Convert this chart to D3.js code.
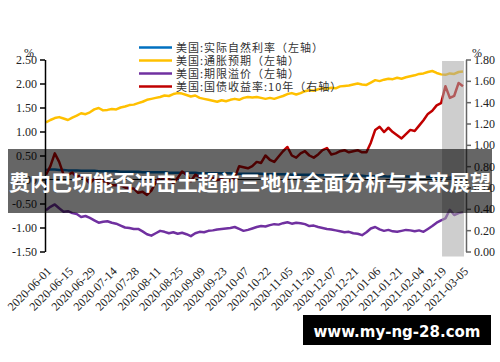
<!DOCTYPE html>
<html>
<head>
<meta charset="utf-8">
<script src="https://cdn.jsdelivr.net/npm/d3@7"></script>
<style>
    html,body{margin:0;padding:0;background:#fff;}
    svg{display:block;}
</style>
</head>
<body>
<div id="chart"></div>
<script>
"use strict";

// x轴标签(每5个点一个)
var dateLabels = ["2020-06-01","2020-06-15","2020-06-29","2020-07-14","2020-07-28","2020-08-11","2020-08-25",
    "2020-09-09","2020-09-23","2020-10-07","2020-10-22","2020-11-05","2020-11-20","2020-12-07","2020-12-21",
    "2021-01-06","2021-01-21","2021-02-04","2021-02-19","2021-03-05"];

// 美国:实际自然利率(左轴)
var naturalRate = [0.20,0.21,0.21,0.20,0.20,0.19,0.19,0.19,0.18,0.18,0.18,0.18,0.17,0.17,0.17,0.17,0.17,0.16,0.16,0.16,
    0.16,0.16,0.15,0.15,0.15,0.15,0.15,0.15,0.14,0.14,0.14,0.14,0.14,0.14,0.14,0.13,0.13,0.13,0.13,0.13,
    0.13,0.13,0.13,0.12,0.12,0.12,0.12,0.12,0.12,0.12,0.11,0.11,0.11,0.11,0.11,0.11,0.10,0.10,0.10,0.10,
    0.10,0.10,0.09,0.09,0.09,0.09,0.09,0.08,0.08,0.08,0.08,0.08,0.08,0.07,0.07,0.07,0.07,0.07,0.06,0.06,
    0.06,0.06,0.06,0.06,0.05,0.05,0.05,0.05,0.05,0.05,0.05,0.04,0.04,0.04,0.04,0.04];

// 美国:通胀预期(左轴)
var inflationExp = [1.19,1.24,1.28,1.30,1.27,1.24,1.29,1.33,1.38,1.36,1.40,1.46,1.49,1.44,1.45,1.47,1.46,1.50,1.52,1.55,
    1.56,1.59,1.62,1.66,1.68,1.70,1.72,1.75,1.74,1.78,1.80,1.79,1.76,1.73,1.75,1.70,1.68,1.66,1.64,1.62,
    1.65,1.63,1.66,1.68,1.66,1.70,1.72,1.71,1.72,1.70,1.68,1.70,1.68,1.71,1.74,1.78,1.80,1.77,1.80,1.84,
    1.86,1.85,1.88,1.90,1.89,1.91,1.90,1.94,1.95,1.96,1.98,2.00,1.98,1.97,2.02,2.07,2.05,2.08,2.10,2.09,
    2.12,2.10,2.13,2.15,2.17,2.20,2.21,2.24,2.26,2.22,2.19,2.18,2.21,2.20,2.24,2.25];

// 美国:期限溢价(左轴)
var termPremium = [-0.64,-0.57,-0.52,-0.60,-0.67,-0.66,-0.70,-0.72,-0.78,-0.76,-0.80,-0.85,-0.90,-0.88,-0.87,-0.90,-0.92,-0.96,-1.00,-1.01,
    -1.03,-1.03,-1.08,-1.14,-1.17,-1.12,-1.07,-1.09,-1.12,-1.10,-1.13,-1.11,-1.14,-1.18,-1.12,-1.09,-1.10,-1.07,-1.06,-1.04,
    -1.03,-1.02,-1.01,-0.99,-1.03,-1.07,-1.05,-1.02,-0.99,-0.97,-0.98,-0.95,-0.93,-0.94,-0.91,-0.89,-0.92,-0.90,-0.91,-0.93,
    -0.97,-0.96,-0.99,-1.01,-1.03,-1.04,-1.06,-1.08,-1.10,-1.09,-1.12,-1.13,-1.16,-1.10,-1.02,-0.99,-1.04,-1.07,-1.05,-1.08,
    -1.09,-1.07,-1.05,-1.06,-1.08,-1.06,-1.09,-1.03,-0.97,-0.90,-0.85,-0.81,-0.63,-0.74,-0.70,-0.68];

// 美国:国债收益率:10年(右轴)
var yield10y = [0.72,0.80,0.92,0.84,0.72,0.72,0.74,0.70,0.71,0.68,0.64,0.68,0.69,0.66,0.64,0.62,0.62,0.62,0.60,0.59,
    0.59,0.55,0.56,0.53,0.57,0.65,0.70,0.68,0.68,0.64,0.69,0.75,0.72,0.66,0.72,0.70,0.67,0.68,0.69,0.67,
    0.68,0.66,0.66,0.69,0.80,0.79,0.78,0.80,0.84,0.83,0.90,0.86,0.84,0.89,0.94,0.98,0.90,0.88,0.92,0.94,
    0.90,0.88,0.91,0.95,0.97,0.91,0.92,0.94,0.95,0.93,0.94,0.95,0.93,0.93,1.02,1.14,1.17,1.12,1.16,1.12,
    1.09,1.06,1.10,1.14,1.13,1.18,1.23,1.29,1.32,1.37,1.39,1.55,1.44,1.46,1.58,1.55];

var leftTicks = [2.5,2.0,1.5,1.0,0.5,0,-0.5,-1.0,-1.5];
var rightTicks = [1.8,1.6,1.4,1.2,1.0,0.8,0.6,0.4,0.2,0];

var seriesList = [
    {name:"美国:实际自然利率（左轴）", values:naturalRate, color:"#0070C0", axis:"left"},
    {name:"美国:通胀预期（左轴）", values:inflationExp, color:"#FFC000", axis:"left"},
    {name:"美国:期限溢价（左轴）", values:termPremium, color:"#7030A0", axis:"left"},
    {name:"美国:国债收益率:10年（右轴）", values:yield10y, color:"#C00000", axis:"right"}
];

var bannerText = "费内巴切能否冲击土超前三地位全面分析与未来展望";
var siteText = "www.my-ng-28.com";

var width = 500, height = 362;
var svg = d3.select("#chart").append("svg")
    .attr("width",width)
    .attr("height",height);

var plotLeft = 45, plotRight = 466, plotTop = 59.5, plotBottom = 251.5;
var serif = "'Liberation Serif','Times New Roman',serif";
var cjk = "'Noto Sans CJK SC',sans-serif";

var x = d3.scalePoint()
    .domain(d3.range(naturalRate.length))
    .range([46,463]);

var yLeft = d3.scaleLinear().domain([-1.5,2.5]).range([plotBottom,plotTop]);
var yRight = d3.scaleLinear().domain([0,1.8]).range([plotBottom,plotTop]);

//零值横轴
svg.append("line")
    .attr("x1",plotLeft).attr("x2",plotRight)
    .attr("y1",yLeft(0)).attr("y2",yLeft(0))
    .attr("stroke","#000").attr("stroke-width",1);

//折线
seriesList.forEach(function(s){
    var yScale = s.axis==="left"?yLeft:yRight;
    var line = d3.line()
        .x(function(d,i){return x(i);})
        .y(function(d){return yScale(d);});
    svg.append("path")
        .datum(s.values)
        .attr("d",line)
        .attr("fill","none")
        .attr("stroke",s.color)
        .attr("stroke-width",2.5)
        .attr("stroke-linejoin","round");
});

//灰色阴影区
svg.append("rect")
    .attr("x",x(90)+1)
    .attr("y",61)
    .attr("width",x(95)-x(90))
    .attr("height",plotBottom+5-61)
    .attr("fill","#a6a6a6")
    .attr("opacity",0.55);

//左轴
var leftAxis = svg.append("g")
    .attr("transform","translate("+plotLeft+",0)")
    .call(d3.axisLeft(yLeft).tickValues(leftTicks).tickSize(5).tickSizeOuter(0).tickFormat(d3.format(".2f")));
leftAxis.select(".domain").attr("stroke","#000").attr("stroke-width",1.5);
leftAxis.selectAll(".tick line").attr("stroke","#000").attr("stroke-width",1.5);
leftAxis.selectAll("text")
    .attr("font-family",serif).attr("font-size",12).attr("fill","#222")
    .text(function(d){return d3.format(".2f")(d).replace("−","-");});

//右轴
var rightAxis = svg.append("g")
    .attr("transform","translate("+plotRight+",0)")
    .call(d3.axisRight(yRight).tickValues(rightTicks).tickSize(5).tickSizeOuter(0).tickFormat(d3.format(".2f")));
rightAxis.select(".domain").attr("stroke","#666").attr("stroke-width",1.5);
rightAxis.selectAll(".tick line").attr("stroke","#666").attr("stroke-width",1.5);
rightAxis.selectAll("text")
    .attr("font-family",serif).attr("font-size",12).attr("fill","#222");

//单位
svg.append("text").attr("x",29).attr("y",57).attr("text-anchor","middle")
    .attr("font-family",serif).attr("font-size",12).attr("fill","#222").text("%");
svg.append("text").attr("x",477).attr("y",57).attr("text-anchor","middle")
    .attr("font-family",serif).attr("font-size",12).attr("fill","#222").text("%");

//x轴标签
svg.append("g").selectAll("text")
    .data(dateLabels)
    .enter()
    .append("text")
    .attr("transform",function(d,i){
        return "translate("+(x(i*5)+6)+",272) rotate(-45)";
    })
    .attr("text-anchor","end")
    .attr("font-family",serif)
    .attr("font-size",12)
    .attr("fill","#222")
    .text(function(d){return d;});

//图例
var legend = svg.append("g").attr("class","legend");
seriesList.forEach(function(s,i){
    var ly = 47.5+i*13;
    legend.append("line")
        .attr("x1",139).attr("x2",172)
        .attr("y1",ly).attr("y2",ly)
        .attr("stroke",s.color).attr("stroke-width",2.5);
    legend.append("text")
        .attr("x",176).attr("y",ly+4)
        .attr("font-family",cjk).attr("font-size",11)
        .attr("letter-spacing",1)
        .attr("fill","#333")
        .text(s.name);
});

//标题横幅
svg.append("rect")
    .attr("x",8).attr("y",149)
    .attr("width",484).attr("height",64)
    .attr("fill","#000").attr("opacity",0.6);
svg.append("text")
    .attr("x",250).attr("y",190)
    .attr("text-anchor","middle")
    .attr("font-family",cjk).attr("font-weight","bold")
    .attr("font-size",21)
    .attr("textLength",482).attr("lengthAdjust","spacingAndGlyphs")
    .attr("fill","#fff")
    .text(bannerText);

//网址
svg.append("rect")
    .attr("x",303).attr("y",315)
    .attr("width",188).attr("height",30)
    .attr("fill","#000");
svg.append("text")
    .attr("x",397).attr("y",337)
    .attr("text-anchor","middle")
    .attr("font-family","'DejaVu Sans',sans-serif").attr("font-weight","bold")
    .attr("font-size",15)
    .attr("fill","#fff")
    .text(siteText);
</script>
</body>
</html>
